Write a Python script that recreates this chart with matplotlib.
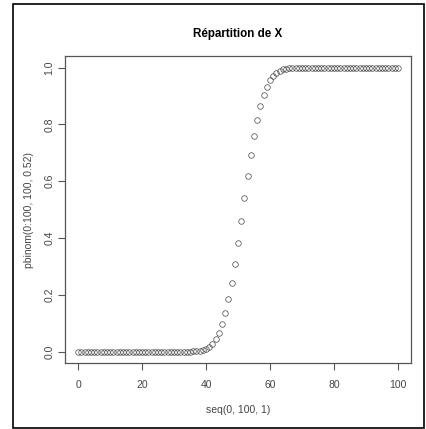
import matplotlib.pyplot as plt
from matplotlib.patches import Rectangle

plt.rcParams['font.family'] = ['Liberation Sans', 'DejaVu Sans']

# x = 0..100, cumulative probabilities
x = list(range(101))
y = [0.0] * 31 + [
    0.0001, 0.0001, 0.0002, 0.0003,            # 31-34
    0.0005, 0.0010, 0.0019, 0.0035, 0.0062,    # 35-39
    0.0107, 0.0179, 0.0287, 0.0446, 0.0668,    # 40-44
    0.0968, 0.1357, 0.1841, 0.2420, 0.3085,    # 45-49
    0.3821, 0.4602, 0.5398, 0.6179, 0.6915,    # 50-54
    0.7580, 0.8159, 0.8643, 0.9032, 0.9332,    # 55-59
    0.9554, 0.9713, 0.9821, 0.9893, 0.9938,    # 60-64
    0.9965, 0.9981, 0.9990, 0.9995, 0.9998,    # 65-69
] + [1.0] * 31
x_ticks = [0, 20, 40, 60, 80, 100]
y_ticks = [0.0, 0.2, 0.4, 0.6, 0.8, 1.0]

fig = plt.figure(figsize=(4.27, 4.29), dpi=100)
ax = fig.add_axes([0.153, 0.1538, 0.809, 0.715])

ax.plot(x, y, linestyle='none', marker='o', markersize=4.0,
        markerfacecolor='none', markeredgecolor='#444444', markeredgewidth=0.5)

ax.set_xlim(-4, 104)
ax.set_ylim(-0.04, 1.04)
ax.set_xticks(x_ticks)
ax.set_xticklabels([str(v) for v in x_ticks])
ax.set_yticks(y_ticks)
ax.set_yticklabels(['%.1f' % v for v in y_ticks], rotation=90, va='center')

for s in ax.spines.values():
    s.set_color('#555555')
    s.set_linewidth(0.9)
ax.tick_params(direction='out', length=5, width=0.8, color='#555555',
               labelsize=7.5, labelcolor='#444444')
ax.tick_params(axis='x', pad=7)
ax.tick_params(axis='y', pad=3)

ax.set_title('Répartition de X', fontsize=8.4, fontweight='bold', pad=14)
ax.set_xlabel('seq(0, 100, 1)', fontsize=7.5, color='#444444', labelpad=11)
ax.set_ylabel('pbinom(0:100, 100, 0.52)', fontsize=7.5, color='#444444', labelpad=7)

# black frame around the whole device
fig.patches.append(Rectangle((0.0304, 0.0023), 0.963, 0.9884, transform=fig.transFigure,
                             fill=False, edgecolor='black', linewidth=1.2))

fig.savefig('out.png', dpi=100)
